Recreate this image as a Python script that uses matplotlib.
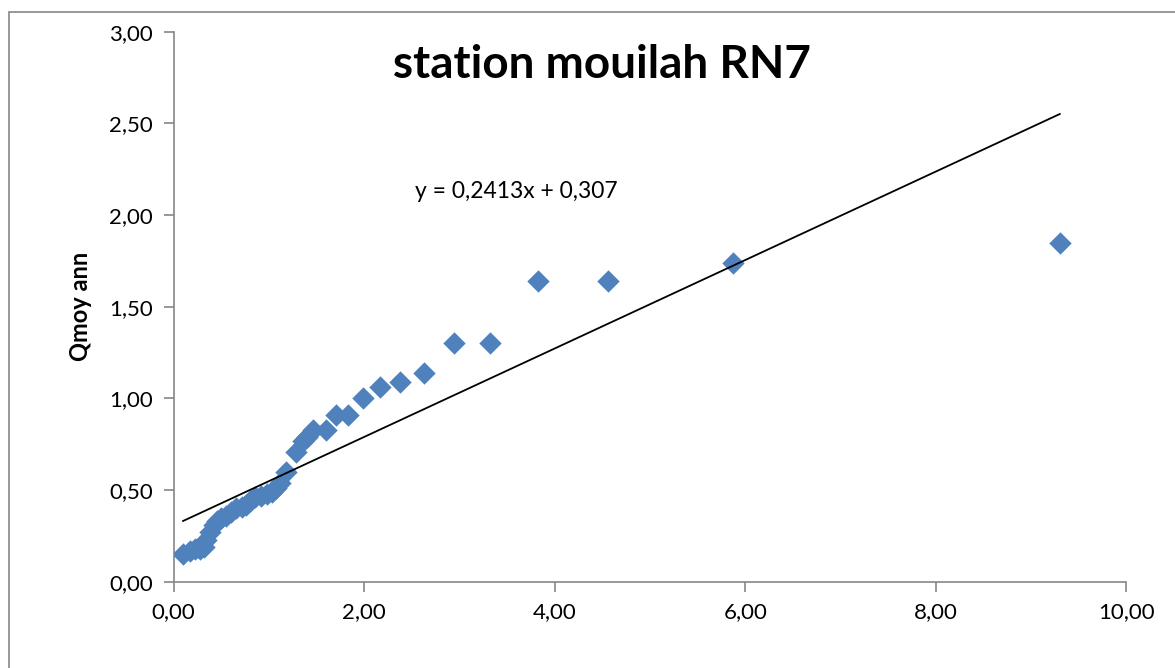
import numpy as np
import matplotlib
matplotlib.use("Agg")
import matplotlib.pyplot as plt
from matplotlib.patches import Rectangle
from matplotlib.ticker import FuncFormatter

# data
x_vals = [0.10, 0.17, 0.22, 0.28, 0.32, 0.34, 0.38, 0.42, 0.46, 0.50,
          0.55, 0.60, 0.66, 0.72, 0.76, 0.80, 0.86, 0.92, 0.98, 1.03,
          1.08, 1.12, 1.18, 1.29, 1.36, 1.40, 1.46, 1.60, 1.71, 1.83,
          1.99, 2.17, 2.38, 2.63, 2.94, 3.32, 3.82, 4.56, 5.87, 9.30]
y_vals = [0.15, 0.17, 0.18, 0.18, 0.19, 0.23, 0.27, 0.31, 0.33, 0.35,
          0.36, 0.38, 0.40, 0.41, 0.42, 0.44, 0.46, 0.47, 0.48, 0.49,
          0.51, 0.54, 0.60, 0.71, 0.77, 0.79, 0.83, 0.83, 0.91, 0.91,
          1.00, 1.06, 1.09, 1.14, 1.30, 1.30, 1.64, 1.64, 1.74, 1.85]
slope = 0.2413
intercept = 0.307

title = "station mouilah RN7"
ylabel = "Qmoy ann"

plt.rcParams['font.family'] = ['Lato', 'DejaVu Sans']

fig = plt.figure(figsize=(11.75, 6.68), dpi=100)
ax = fig.add_axes([0.1477, 0.1292, 0.811, 0.8233])

# outer chart border (runs off the right and bottom edges)
fig.patches.append(Rectangle((9 / 1175, -0.1), 1.2, 1 - 12 / 668 + 0.1,
                             transform=fig.transFigure, fill=False,
                             edgecolor='#868686', linewidth=1.2))

ax.scatter(x_vals, y_vals, marker='D', s=130, color='#4F81BD', zorder=3,
           linewidths=0)

xl = np.array([min(x_vals), max(x_vals)])
ax.plot(xl, slope * xl + intercept, color='black', linewidth=1.3, zorder=4)

ax.text(2.53, 2.126, "y = 0,2413x + 0,307", fontsize=16.5, ha='left', va='center')
ax.text(0.4496, 0.915, title, transform=ax.transAxes, fontsize=33,
        fontweight='bold', ha='center', va='baseline')
fig.text(80 / 1175, 1 - 306 / 668, ylabel, fontsize=17, fontweight='bold',
         rotation=90, ha='center', va='center')

ax.set_xlim(0, 10)
ax.set_ylim(0, 3)
ax.set_xticks(np.arange(0, 10.1, 2))
ax.set_yticks(np.arange(0, 3.01, 0.5))
fmt = FuncFormatter(lambda v, p: f"{v:.2f}".replace('.', ','))
ax.xaxis.set_major_formatter(fmt)
ax.yaxis.set_major_formatter(fmt)

for s in ['top', 'right']:
    ax.spines[s].set_visible(False)
for s in ['left', 'bottom']:
    ax.spines[s].set_color('#868686')
    ax.spines[s].set_linewidth(1.2)
ax.tick_params(colors='#868686', labelcolor='black', labelsize=16,
               length=7, width=1.2, pad=8)

fig.savefig("out.png", dpi=100)
